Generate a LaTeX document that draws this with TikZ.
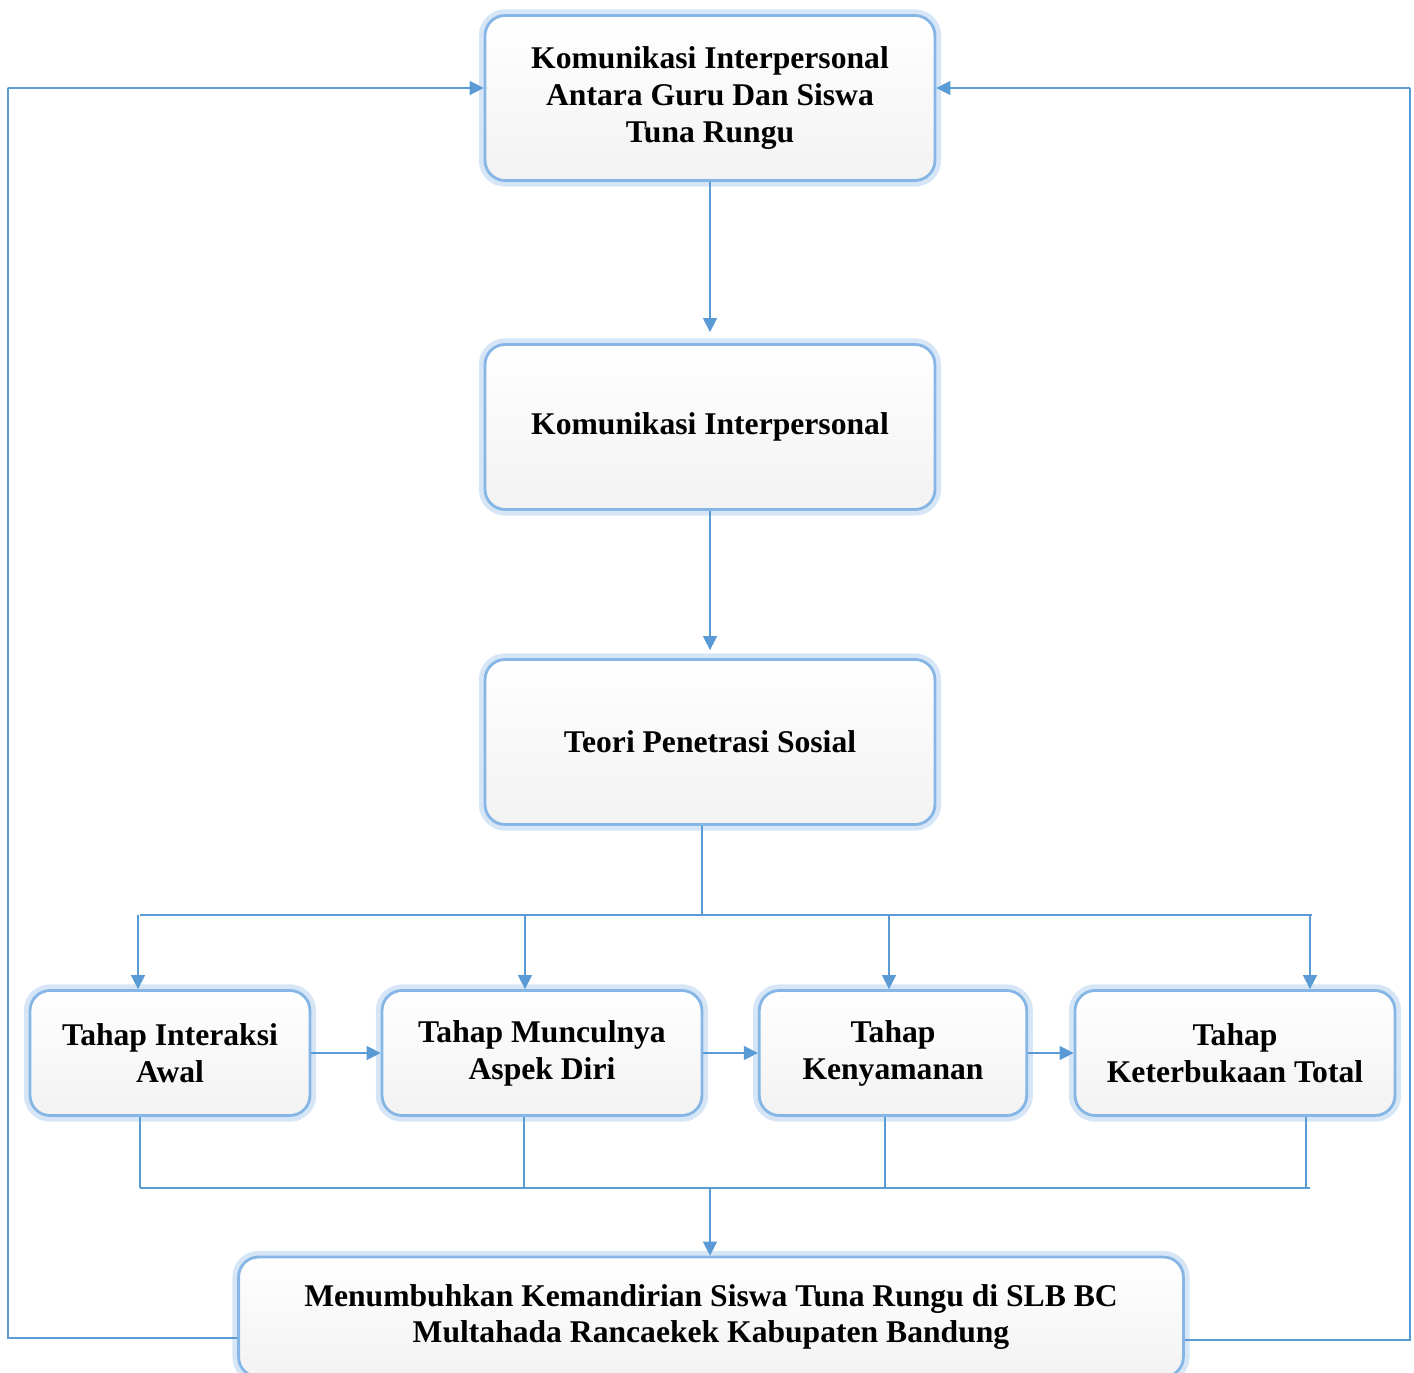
\documentclass[tikz,border=0pt]{standalone}
\usepackage{fontspec}
\setmainfont{Liberation Serif}
\usetikzlibrary{arrows.meta,positioning}
\definecolor{lineblue}{HTML}{5B9BD5}
\definecolor{glowblue}{HTML}{C5DCF2}
\definecolor{rimblue}{HTML}{86B6E6}

\begin{document}
\begin{tikzpicture}[
    x=0.02cm, y=-0.02cm,
    font=\fontsize{18}{21}\selectfont\bfseries,
    >={Triangle[length=2.8mm, width=2.8mm]},
    box/.style={rounded corners=0.4cm, align=center, inner sep=0pt,
                top color=white, bottom color=black!5,
                draw=rimblue, line width=1.6pt,
                preaction={draw=glowblue!70, line width=7pt}},
    bigbox/.style={box, minimum width=9.0cm, minimum height=3.3cm},
    stage/.style={box, minimum height=2.5cm},
    edge/.style={->, draw=lineblue, line width=0.8pt},
    bus/.style={draw=lineblue, line width=0.8pt}
]
\useasboundingbox (0,0) rectangle (1414,1373);

% --- Main column ---
\node[bigbox] (kig) at (710,98)
  {Komunikasi Interpersonal\\Antara Guru Dan Siswa\\Tuna Rungu};
\node[bigbox] (ki)  at (710,427) {Komunikasi Interpersonal};
\node[bigbox] (tps) at (710,742) {Teori Penetrasi Sosial};

% --- Stages of penetration ---
\node[stage, minimum width=5.6cm]  (s1) at (170,1053)  {Tahap Interaksi\\Awal};
\node[stage, minimum width=6.4cm]  (s2) at (542,1053)  {Tahap Munculnya\\Aspek Diri};
\node[stage, minimum width=5.35cm] (s3) at (893,1053)  {Tahap\\Kenyamanan};
\node[stage, minimum width=6.4cm]  (s4) at (1235,1053) {Tahap\\Keterbukaan Total};

% --- Outcome ---
\node[box, minimum width=18.9cm, minimum height=2.4cm] (hasil) at (711,1317)
  {Menumbuhkan Kemandirian Siswa Tuna Rungu di SLB BC\\Multahada Rancaekek Kabupaten Bandung};

% Column arrows
\draw[edge, shorten >=0.22cm] (kig) -- (ki);
\draw[edge, shorten >=0.16cm] (ki) -- (tps);

% Upper bus to the stages
\coordinate (busT) at (702,915);
\draw[bus] (tps.south -| busT) -- (busT);
\draw[bus] (140,915) coordinate (busTL) -- (1312,915) coordinate (busTR);
\foreach \n/\x in {s1/138, s2/525, s3/889, s4/1310} {
  \coordinate (d\n) at (\x,915);
  \draw[edge] (d\n) -- (d\n |- \n.north);
}

% Stage to stage
\draw[edge] (s1) -- (s2);
\draw[edge] (s2) -- (s3);
\draw[edge] (s3) -- (s4);

% Lower bus to the outcome
\foreach \n/\x in {s1/140, s2/524, s3/885, s4/1306} {
  \coordinate (u\n) at (\x,1188);
  \draw[bus] (u\n |- \n.south) -- (u\n);
}
\draw[bus] (140,1188) coordinate (busBL) -- (1310,1188) coordinate (busBR);
\coordinate (busB) at (710,1188);
\draw[edge] (busB) -- (busB |- hasil.north);

% Feedback loops
\coordinate (fl) at (8,88);
\coordinate (fr) at (1410,88);
\draw[edge] ([yshift=-0.42cm]hasil.west) -| (fl) |- ([yshift=0.2cm]kig.west);
\draw[edge] ([yshift=-0.46cm]hasil.east) -| (fr) |- ([yshift=0.2cm]kig.east);

\end{tikzpicture}
\end{document}
